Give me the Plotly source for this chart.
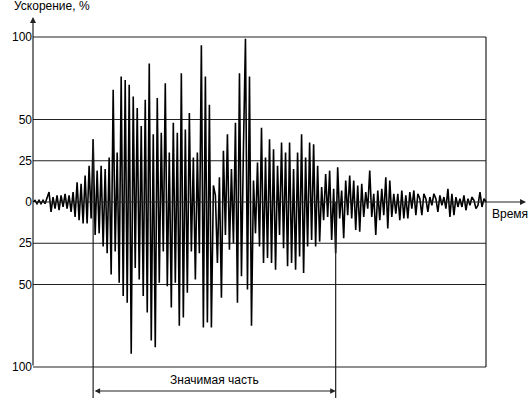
import numpy as np
import plotly.graph_objects as go

# accelerogram, one peak every ~2 px (values in %)
onset = [0, 1, -1, 1, -1, 1, -1, 2, 6, -6, 3, -4, 4, -5, 4, -3, 5, -4, 4, -6,
         6, -9, 12, -11, 11, -13, 16, -13, 22, -10]
strong = [38, -20, 19, -19, 22, -27, 20, -31, 27, -44, 68, -30,
          30, -49, 76, -57, 74, -61, 71, -92, 64, -40, 57, -47, 46, -57, 62, -67,
          84, -84, 41, -88, 63, -49, 42, -30, 72, -51, 30, -64, 48, -49, 42, -75,
          78, -70, 44, -55, 54, -30, 27, -47, 30, -31, 95, -76, 76, -73, 59, -76,
          10, 4, -37, 15, -58, 31, -20, 41, -29, 20, -25, 48, -61, 78, -45, 33,
          99, -53, 76, -75, 13, -19, 24, -27, 45, -37, 27, -34, 38, -37, 32, -41,
          22, -20, 36, -28, 30, -39, 36, -37, 20, -41, 30, -33, 41, -43, 27, -27,
          36, -23, 35, -27, 22, -24, 9, -11, 17, -9, 19, -23, 8]
coda = [-31, 21, -10, 7, -22, 13, -8, 16, -10, 13,
        -17, 10, -18, 11, -9, 6, -4, 19, -9, 5,
        -20, 7, -11, 8, -8, 15, -16, 13, -9, 5,
        -7, 5, -11, 7, -10, 4, -10, 6, -4, 7,
        -8, 5, 2, -8, 5, 2, -6, 3, -2, 5,
        2, -6, 4, -2, 3, -4, 8, -9, 5, -8,
        3, -3, 2, -3, 4, -5, 2, -2, 3, 1,
        -4, -2, 6, -3, 2, 0]

grid_levels = [100, 50, 25, -25, -50, -100]
tick_vals = [100, 50, 25, 0, -25, -50, -100]
tick_text = ["100", "50", "25", "0", "25", "50", "100"]

dt = 0.1
sig_start = 3.0   # начало значимой части, c
sig_end = 15.1    # конец значимой части, c

accel = np.array(onset + strong + coda, dtype=float)
time = np.arange(len(accel)) * dt
t_end = time[-1]

W, H = 532, 405

# pixel -> data helpers (frame 33..486 px, 0 at y=202, 1.65 px per %)
def tx(px):
    return (px - 33) / 453 * t_end

def vy(py):
    return (202 - py) / 1.65

FONT = "Liberation Sans, Arial, sans-serif"
LINE = "#222222"

fig = go.Figure()
fig.add_trace(go.Scatter(x=time, y=accel, mode="lines",
                         line=dict(color="black", width=1.6),
                         hoverinfo="skip", showlegend=False))

shapes = []
for g in grid_levels:
    shapes.append(dict(type="line", xref="x", yref="y", x0=0, x1=t_end, y0=g, y1=g,
                       line=dict(color=LINE, width=1.2), layer="below"))
# right frame
shapes.append(dict(type="line", xref="x", yref="y", x0=t_end, x1=t_end, y0=-100, y1=100,
                   line=dict(color=LINE, width=1.2), layer="below"))
# significant duration markers
i0 = int(round(sig_start / dt))
shapes.append(dict(type="line", xref="x", yref="y", x0=sig_start, x1=sig_start,
                   y0=accel[i0], y1=vy(398), line=dict(color=LINE, width=1.2)))
shapes.append(dict(type="line", xref="x", yref="y", x0=sig_end, x1=sig_end,
                   y0=0, y1=vy(398), line=dict(color=LINE, width=1.2)))

annotations = [
    # y axis with arrow
    dict(x=0, y=vy(17), ax=0, ay=-100, xref="x", yref="y", axref="x", ayref="y",
         text="", showarrow=True, arrowhead=2, arrowsize=1, arrowwidth=1.2,
         arrowcolor=LINE),
    # time axis with arrow
    dict(x=tx(526), y=0, ax=0, ay=0, xref="x", yref="y", axref="x", ayref="y",
         text="", showarrow=True, arrowhead=2, arrowsize=1, arrowwidth=1.2,
         arrowcolor=LINE),
    dict(x=-21 / 499, y=1, xref="paper", yref="paper", xanchor="left",
         yanchor="bottom", text="Ускорение, %", showarrow=False,
         font=dict(family=FONT, size=12, color="black")),
    dict(x=tx(490), y=vy(214), xref="x", yref="y", xanchor="left", yanchor="middle",
         text="Время", showarrow=False, font=dict(family=FONT, size=12, color="black")),
    # significant part double arrow
    dict(x=sig_end, y=vy(391), ax=sig_start, ay=vy(391), xref="x", yref="y",
         axref="x", ayref="y", text="", showarrow=True, arrowside="end+start",
         arrowhead=2, startarrowhead=2, arrowsize=1, startarrowsize=1,
         arrowwidth=1.1, arrowcolor=LINE),
    dict(x=(sig_start + sig_end) / 2, y=vy(380), xref="x", yref="y",
         text="Значимая часть", showarrow=False,
         font=dict(family=FONT, size=12, color="black")),
]

fig.update_layout(
    width=W, height=H,
    margin=dict(l=33, r=0, t=15, b=3, autoexpand=False),
    paper_bgcolor="white", plot_bgcolor="white",
    showlegend=False,
    shapes=shapes,
    annotations=annotations,
    xaxis=dict(visible=False, range=[0, tx(532)], fixedrange=True, automargin=False),
    yaxis=dict(range=[vy(402), vy(15)], tickvals=tick_vals, ticktext=tick_text,
               showgrid=False, zeroline=False, showline=False, ticks="",
               automargin=False,
               tickfont=dict(family=FONT, size=12, color="black"), fixedrange=True),
)

# drop the default 8 px page margin so the figure fills the window
fig.write_html("out.html", config={"displayModeBar": False},
               post_script="document.body.style.margin='0';")
